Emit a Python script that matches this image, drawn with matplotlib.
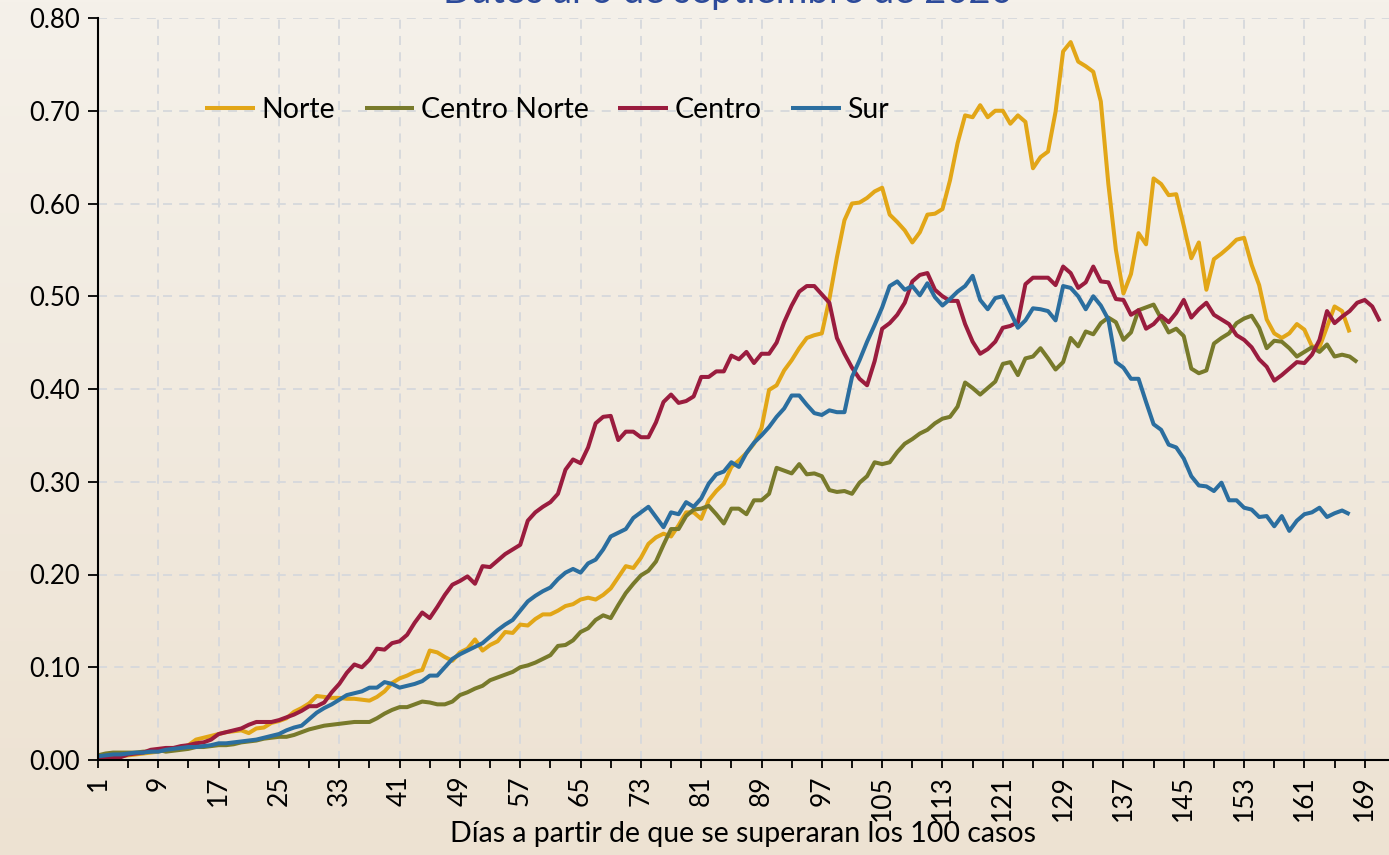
"""
Casos por region, dias a partir de que se superaran los 100 casos
"""
import numpy as np
import matplotlib
matplotlib.use('Agg')
import matplotlib.pyplot as plt
from matplotlib.colors import LinearSegmentedColormap
from matplotlib.ticker import FixedLocator, FormatStrFormatter

plt.rcParams['font.family'] = ['Lato', 'DejaVu Sans']

title = 'Datos al 6 de septiembre de 2020'
xlabel = 'Días a partir de que se superaran los 100 casos'

names = ['Norte', 'Centro Norte', 'Centro', 'Sur']
colors = ['#E2A617', '#787A2B', '#9A1C3E', '#2B6E9F']

norte = [
    0.004, 0.004, 0.004, 0.004, 0.005, 0.006, 0.007, 0.008, 0.009, 0.011,
    0.012, 0.013, 0.016, 0.022, 0.024, 0.026, 0.028, 0.030, 0.031, 0.032,
    0.029, 0.034, 0.035, 0.040, 0.042, 0.045, 0.052, 0.056, 0.061, 0.069,
    0.068, 0.067, 0.067, 0.066, 0.066, 0.065, 0.064, 0.068, 0.074, 0.083,
    0.088, 0.091, 0.095, 0.097, 0.118, 0.116, 0.111, 0.107, 0.116, 0.120,
    0.130, 0.118, 0.124, 0.128, 0.138, 0.137, 0.146, 0.145, 0.152, 0.157,
    0.157, 0.161, 0.166, 0.168, 0.173, 0.175, 0.173, 0.178, 0.185, 0.197,
    0.209, 0.207, 0.218, 0.233, 0.240, 0.244, 0.241, 0.253, 0.267, 0.267,
    0.260, 0.280, 0.290, 0.298, 0.316, 0.323, 0.331, 0.341, 0.358, 0.399,
    0.404, 0.420, 0.431, 0.444, 0.455, 0.458, 0.460, 0.497, 0.542, 0.582,
    0.600, 0.601, 0.606, 0.613, 0.617, 0.588, 0.580, 0.571, 0.558, 0.569,
    0.588, 0.589, 0.594, 0.625, 0.665, 0.695, 0.693, 0.706, 0.693, 0.700,
    0.700, 0.686, 0.695, 0.688, 0.638, 0.650, 0.656, 0.699, 0.764, 0.774,
    0.753, 0.748, 0.742, 0.710, 0.621, 0.550, 0.503, 0.524, 0.568, 0.556,
    0.627, 0.621, 0.609, 0.610, 0.576, 0.541, 0.558, 0.507, 0.540, 0.546,
    0.553, 0.561, 0.563, 0.534, 0.512, 0.475, 0.460, 0.455, 0.460, 0.470,
    0.464, 0.446, 0.445, 0.467, 0.489, 0.484, 0.461,
]

centro_norte = [
    0.005, 0.007, 0.008, 0.008, 0.008, 0.008, 0.009, 0.009, 0.011, 0.009,
    0.010, 0.011, 0.012, 0.014, 0.014, 0.015, 0.016, 0.016, 0.017, 0.019,
    0.020, 0.021, 0.023, 0.024, 0.025, 0.025, 0.027, 0.030, 0.033, 0.035,
    0.037, 0.038, 0.039, 0.040, 0.041, 0.041, 0.041, 0.045, 0.050, 0.054,
    0.057, 0.057, 0.060, 0.063, 0.062, 0.060, 0.060, 0.063, 0.070, 0.073,
    0.077, 0.080, 0.086, 0.089, 0.092, 0.095, 0.100, 0.102, 0.105, 0.109,
    0.113, 0.123, 0.124, 0.129, 0.138, 0.142, 0.151, 0.156, 0.153, 0.167,
    0.180, 0.190, 0.199, 0.204, 0.214, 0.232, 0.249, 0.249, 0.263, 0.270,
    0.271, 0.274, 0.265, 0.255, 0.271, 0.271, 0.265, 0.280, 0.280, 0.287,
    0.315, 0.312, 0.309, 0.319, 0.308, 0.309, 0.306, 0.291, 0.289, 0.290,
    0.287, 0.299, 0.306, 0.321, 0.319, 0.321, 0.332, 0.341, 0.346, 0.352,
    0.356, 0.363, 0.368, 0.370, 0.381, 0.407, 0.401, 0.394, 0.401, 0.408,
    0.427, 0.429, 0.415, 0.433, 0.435, 0.444, 0.433, 0.421, 0.429, 0.455,
    0.446, 0.462, 0.459, 0.471, 0.477, 0.472, 0.453, 0.461, 0.485, 0.488,
    0.491, 0.476, 0.461, 0.465, 0.457, 0.422, 0.417, 0.420, 0.449, 0.455,
    0.460, 0.471, 0.476, 0.479, 0.466, 0.444, 0.452, 0.451, 0.444, 0.435,
    0.440, 0.445, 0.440, 0.448, 0.435, 0.437, 0.435, 0.429,
]

centro = [
    0.003, 0.002, 0.002, 0.003, 0.006, 0.007, 0.008, 0.011, 0.012, 0.013,
    0.013, 0.015, 0.016, 0.018, 0.019, 0.022, 0.028, 0.030, 0.032, 0.034,
    0.038, 0.041, 0.041, 0.041, 0.043, 0.046, 0.049, 0.053, 0.058, 0.058,
    0.062, 0.073, 0.082, 0.094, 0.103, 0.100, 0.108, 0.120, 0.119, 0.126,
    0.128, 0.135, 0.148, 0.159, 0.153, 0.165, 0.178, 0.189, 0.193, 0.198,
    0.190, 0.209, 0.208, 0.215, 0.222, 0.227, 0.232, 0.258, 0.267, 0.273,
    0.278, 0.287, 0.313, 0.324, 0.320, 0.337, 0.363, 0.370, 0.371, 0.345,
    0.354, 0.354, 0.348, 0.348, 0.364, 0.386, 0.394, 0.385, 0.387, 0.392,
    0.413, 0.413, 0.419, 0.419, 0.436, 0.432, 0.440, 0.428, 0.438, 0.438,
    0.450, 0.472, 0.490, 0.505, 0.511, 0.511, 0.502, 0.493, 0.455, 0.438,
    0.423, 0.411, 0.404, 0.430, 0.465, 0.471, 0.480, 0.493, 0.516, 0.523,
    0.525, 0.507, 0.500, 0.495, 0.495, 0.470, 0.451, 0.438, 0.443, 0.451,
    0.466, 0.468, 0.472, 0.513, 0.520, 0.520, 0.520, 0.512, 0.532, 0.525,
    0.509, 0.515, 0.532, 0.516, 0.515, 0.497, 0.496, 0.480, 0.485, 0.465,
    0.470, 0.479, 0.472, 0.482, 0.496, 0.477, 0.486, 0.493, 0.480, 0.475,
    0.470, 0.458, 0.453, 0.445, 0.432, 0.424, 0.409, 0.415, 0.422, 0.429,
    0.428, 0.437, 0.453, 0.484, 0.471, 0.478, 0.484, 0.493, 0.496, 0.489,
    0.473,
]

sur = [
    0.004, 0.005, 0.006, 0.006, 0.007, 0.008, 0.008, 0.009, 0.009, 0.011,
    0.012, 0.013, 0.014, 0.014, 0.015, 0.016, 0.018, 0.018, 0.019, 0.020,
    0.021, 0.022, 0.024, 0.026, 0.028, 0.032, 0.035, 0.037, 0.044, 0.051,
    0.056, 0.060, 0.065, 0.070, 0.072, 0.074, 0.078, 0.078, 0.084, 0.082,
    0.078, 0.080, 0.082, 0.085, 0.091, 0.091, 0.100, 0.109, 0.114, 0.118,
    0.122, 0.126, 0.133, 0.140, 0.146, 0.151, 0.161, 0.171, 0.177, 0.182,
    0.186, 0.195, 0.202, 0.206, 0.202, 0.212, 0.216, 0.227, 0.241, 0.245,
    0.249, 0.261, 0.267, 0.273, 0.262, 0.251, 0.267, 0.265, 0.278, 0.273,
    0.282, 0.298, 0.308, 0.311, 0.321, 0.316, 0.331, 0.342, 0.350, 0.359,
    0.370, 0.379, 0.393, 0.393, 0.383, 0.374, 0.372, 0.377, 0.375, 0.375,
    0.413, 0.431, 0.451, 0.469, 0.488, 0.511, 0.516, 0.507, 0.511, 0.501,
    0.514, 0.499, 0.490, 0.497, 0.505, 0.511, 0.522, 0.496, 0.486, 0.498,
    0.500, 0.483, 0.466, 0.474, 0.487, 0.486, 0.484, 0.474, 0.511, 0.509,
    0.500, 0.486, 0.500, 0.490, 0.475, 0.429, 0.423, 0.411, 0.411, 0.386,
    0.362, 0.356, 0.340, 0.337, 0.325, 0.306, 0.296, 0.295, 0.290, 0.299,
    0.280, 0.280, 0.272, 0.270, 0.262, 0.263, 0.252, 0.263, 0.247, 0.258,
    0.265, 0.267, 0.272, 0.262, 0.266, 0.269, 0.265,
]

label_days = list(range(1, 170, 8))
minor_days = list(range(5, 170, 8))
yticks = [0.0, 0.1, 0.2, 0.3, 0.4, 0.5, 0.6, 0.7, 0.8]

W, H = 1389, 855
fig = plt.figure(figsize=(W / 100, H / 100), dpi=100)

# background gradient, light cream at the top to beige at the bottom
bg = fig.add_axes([0, 0, 1, 1], zorder=0)
cmap = LinearSegmentedColormap.from_list('bg', ['#EDE2D2', '#F5F1EA'])
grad = np.linspace(0, 1, 256).reshape(-1, 1)
bg.imshow(grad, cmap=cmap, aspect='auto', origin='lower', extent=[0, 1, 0, 1])
bg.set_axis_off()

left, right, top, bottom = 98, 1389, 18, 760
ax = fig.add_axes([left / W, 1 - bottom / H, (right - left) / W, (bottom - top) / H],
                  zorder=1)
ax.set_facecolor('none')

for name, vals, c in zip(names, [norte, centro_norte, centro, sur], colors):
    days = np.arange(1, len(vals) + 1)
    ax.plot(days, vals, color=c, lw=2.9, label=name, solid_joinstyle='round',
            solid_capstyle='butt', zorder=3)

ax.set_xlim(1, 1 + (right - left) / 7.54)
ax.set_ylim(0, 0.8)

ax.xaxis.set_major_locator(FixedLocator(label_days))
ax.xaxis.set_minor_locator(FixedLocator(minor_days))
ax.set_xticklabels([str(d) for d in label_days], rotation=90, fontsize=19)
ax.set_yticks(yticks)
ax.yaxis.set_major_formatter(FormatStrFormatter('%.2f'))
ax.tick_params(axis='y', labelsize=18.5, length=7, width=1.3, direction='out', pad=6)
ax.tick_params(axis='x', which='both', length=6, width=1.3, direction='out', pad=5)

ax.grid(True, which='major', color='#D6D8DC', lw=1.3, ls=(0, (5, 4)), zorder=1)

for s in ['top', 'right']:
    ax.spines[s].set_visible(False)
for s in ['left', 'bottom']:
    ax.spines[s].set_linewidth(1.5)
    ax.spines[s].set_zorder(4)

ax.set_xlabel(xlabel, fontsize=20.5, labelpad=0)

ax.legend(loc='center left', bbox_to_anchor=((205 - left) / (right - left), (bottom - 110) / (bottom - top)),
          ncol=4, frameon=False, fontsize=20.5, handlelength=1.75, handletextpad=0.22,
          columnspacing=1.05, borderpad=0, borderaxespad=0)

fig.text(728 / W, 1 - 3 / H, title, ha='center', va='baseline', fontsize=27.5,
         color='#2C4A9A')

fig.savefig('out.png', dpi=100)
